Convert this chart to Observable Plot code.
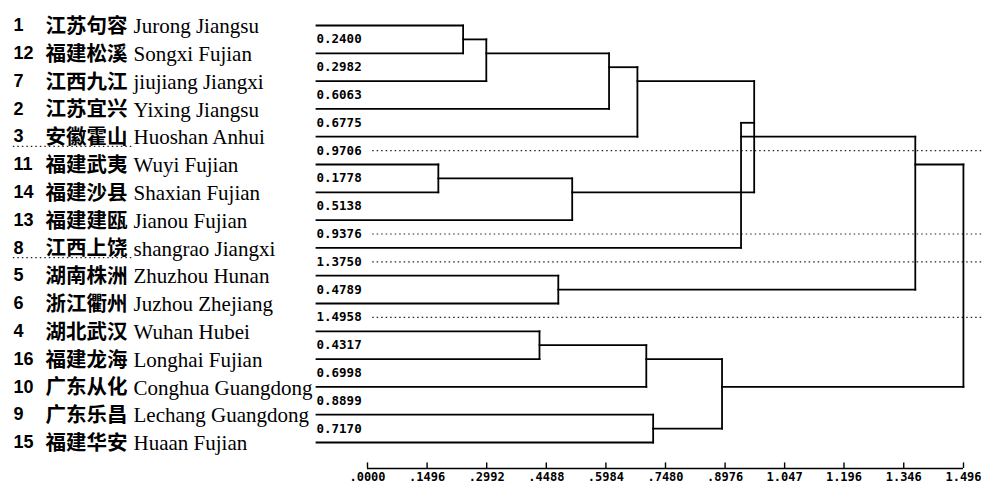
<!DOCTYPE html>
<html><head><meta charset="utf-8">
<script src="https://cdn.jsdelivr.net/npm/d3@7"></script>
<script src="https://cdn.jsdelivr.net/npm/@observablehq/plot@0.6"></script>
<style>body{margin:0;background:#fff} svg{display:block;background:#fff}</style>
</head><body><div id="chart"></div>
<script>
// ---- data ----
const leafIds = [1,12,7,2,3,11,14,13,8,5,6,4,16,10,9,15];
const leafZh = ["江苏句容","福建松溪","江西九江","江苏宜兴","安徽霍山","福建武夷","福建沙县","福建建瓯","江西上饶","湖南株洲","浙江衢州","湖北武汉","福建龙海","广东从化","广东乐昌","福建华安"];
const leafEn = ["Jurong Jiangsu","Songxi Fujian","jiujiang Jiangxi","Yixing Jiangsu","Huoshan Anhui","Wuyi Fujian","Shaxian Fujian","Jianou Fujian","shangrao Jiangxi","Zhuzhou Hunan","Juzhou Zhejiang","Wuhan Hubei","Longhai Fujian","Conghua Guangdong","Lechang Guangdong","Huaan Fujian"];
// distance shown between adjacent leaves
const adjLabels = ["0.2400","0.2982","0.6063","0.6775","0.9706","0.1778","0.5138","0.9376","1.3750","0.4789","1.4958","0.4317","0.6998","0.8899","0.7170"];
// agglomeration steps: positive = leaf id, negative = earlier step number
const mergeA = [11, 1, -2, 4, 5, -1, -3, -7, -4, 9, -9, -8, -12, -13, -14];
const mergeB = [14, 12, 7, 16, 6, 13, 2, 3, 10, 15, -10, -6, 8, -5, -11];
const mergeH = [0.1778,0.2400,0.2982,0.4317,0.4789,0.5138,0.6063,0.6775,0.6998,0.7170,0.8899,0.9706,0.9376,1.3750,1.4958];
const tickValues = [0,0.1496,0.2992,0.4488,0.5984,0.7480,0.8976,1.047,1.196,1.346,1.496];
const tickLabels = [".0000",".1496",".2992",".4488",".5984",".7480",".8976","1.047","1.196","1.346","1.496"];

// ---- layout constants ----
const leafStart = -0.128;
const dotStart = 0.013, dotEnd = 1.55;
const axisRow = 15.935;

// ---- build dendrogram segments ----
const rowOf = new Map(leafIds.map((id, i) => [id, i]));
const nodes = [];
function child(c) {
  if (c > 0) return {x: leafStart, y: rowOf.get(c), rows: [rowOf.get(c)]};
  return nodes[-c - 1];
}
const segs = [];
mergeH.forEach((h, i) => {
  const a = child(mergeA[i]), b = child(mergeB[i]);
  segs.push({x1: a.x, y1: a.y, x2: h, y2: a.y});
  segs.push({x1: b.x, y1: b.y, x2: h, y2: b.y});
  segs.push({x1: h, y1: a.y, x2: h, y2: b.y});
  const rows = a.rows.concat(b.rows);
  nodes.push({x: h, y: d3.mean(rows), rows});
});
const leaves = leafIds.map((id, i) => ({id, i, zh: leafZh[i], en: leafEn[i]}));
const adj = adjLabels.map((t, k) => ({t, r: k + 0.5, v: +t}));
const dotted = adj.filter(d => d.v > 0.9);
const leftDots = [4.5, 8.5];

const chart = Plot.plot({
  width: 983, height: 485, margin: 0,
  x: {domain: [0, 1.496], range: [367, 963], axis: null},
  y: {domain: [0, 15], range: [25, 442], axis: null},
  marks: [
    Plot.ruleY(dotted, {y: "r", x1: dotStart, x2: dotEnd, stroke: "#222", strokeWidth: 1.2, strokeDasharray: "1.5,3"}),
    Plot.ruleY(leftDots, {y: d => d - 0.15, x1: -0.889, x2: -0.587, stroke: "#222", strokeWidth: 1.2, strokeDasharray: "1.5,3"}),
    Plot.link(segs, {x1: "x1", y1: "y1", x2: "x2", y2: "y2", stroke: "#000", strokeWidth: 1.8, strokeLinecap: "square"}),
    Plot.text(adj, {x: leafStart, y: "r", text: "t", textAnchor: "start", fontFamily: "DejaVu Sans Mono", fontWeight: "bold", fontSize: 12.5, fill: "#000"}),
    Plot.text(leaves, {y: "i", text: d => String(d.id), frameAnchor: "left", dx: 13, textAnchor: "start", fontFamily: "Liberation Sans", fontWeight: "bold", fontSize: 18, fill: "#000"}),
    Plot.text(leaves, {y: "i", text: "zh", frameAnchor: "left", dx: 45, dy: 1, textAnchor: "start", fontFamily: "Noto Sans CJK SC", fontWeight: "bold", fontSize: 20.5, fill: "#000"}),
    Plot.text(leaves, {y: "i", text: "en", frameAnchor: "left", dx: 133, dy: 1, textAnchor: "start", fontFamily: "Liberation Serif", fontSize: 21, fill: "#000"}),
    Plot.ruleY([axisRow], {x1: 0, x2: 1.496, stroke: "#000", strokeWidth: 1.4}),
    Plot.ruleX(tickValues, {x: d => d, y1: axisRow, y2: axisRow - 0.2, stroke: "#000", strokeWidth: 1.4}),
    Plot.text(tickValues, {x: d => d, y: axisRow + 0.3, text: (d, i) => tickLabels[i], fontFamily: "DejaVu Sans Mono", fontWeight: "bold", fontSize: 12, fill: "#000"})
  ]
});
document.getElementById("chart").append(chart);
</script></body></html>
